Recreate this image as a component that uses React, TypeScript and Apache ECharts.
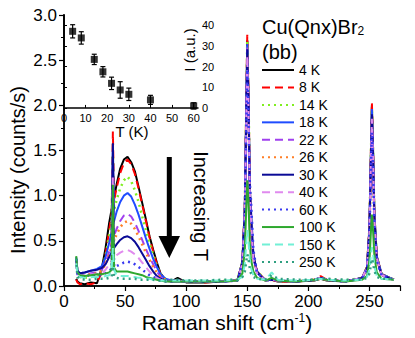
import React, { useEffect, useRef } from 'react';
import * as echarts from 'echarts';

// Raman shift grid (cm^-1)
const shift = [10, 11, 13, 17, 22, 27, 31, 34, 37, 39, 40, 41, 43, 46, 49, 52, 55, 58, 61, 64, 67, 70, 73, 76, 79, 83, 88, 93, 100, 115, 130, 142, 146, 148, 149, 150, 151, 152, 153, 155, 158, 165, 170, 175, 190, 205, 210, 215, 230, 244, 248, 250, 251, 252, 253, 254, 256, 260, 270];

const s4K = [0.08, 0.05, 0.03, 0.02, 0.04, 0.03, 0.2, 0.42, 0.7, 0.85, 1.05, 0.98, 1.12, 1.3, 1.4, 1.43, 1.37, 1.27, 1.1, 0.92, 0.74, 0.55, 0.4, 0.26, 0.14, 0.07, 0.05, 0.09, 0.04, 0.04, 0.05, 0.06, 0.27, 0.87, 1.82, 2.72, 2.09, 1.14, 0.65, 0.32, 0.16, 0.06, 0.07, 0.05, 0.05, 0.06, 0.08, 0.06, 0.05, 0.09, 0.21, 0.65, 1.35, 2.0, 1.48, 0.8, 0.33, 0.13, 0.07];
const s8K = [0.07, 0.04, 0.02, 0.03, 0.02, 0.04, 0.15, 0.35, 0.62, 0.8, 1.71, 0.95, 1.08, 1.25, 1.36, 1.4, 1.35, 1.24, 1.08, 0.9, 0.72, 0.54, 0.38, 0.24, 0.13, 0.07, 0.05, 0.06, 0.05, 0.04, 0.05, 0.06, 0.27, 0.88, 1.86, 2.78, 2.13, 1.16, 0.66, 0.32, 0.16, 0.06, 0.07, 0.05, 0.05, 0.07, 0.11, 0.07, 0.05, 0.09, 0.21, 0.66, 1.37, 2.03, 1.5, 0.81, 0.33, 0.13, 0.07];
const s14K = [0.3, 0.14, 0.1, 0.09, 0.1, 0.12, 0.18, 0.33, 0.55, 0.7, 1.45, 0.84, 0.95, 1.08, 1.17, 1.21, 1.16, 1.06, 0.93, 0.77, 0.62, 0.47, 0.34, 0.22, 0.13, 0.08, 0.06, 0.06, 0.05, 0.05, 0.06, 0.07, 0.27, 0.86, 1.8, 2.7, 2.08, 1.13, 0.64, 0.32, 0.16, 0.07, 0.08, 0.06, 0.05, 0.07, 0.09, 0.07, 0.06, 0.09, 0.2, 0.64, 1.32, 1.95, 1.44, 0.78, 0.32, 0.13, 0.07];
const s18K = [0.32, 0.17, 0.14, 0.15, 0.17, 0.19, 0.22, 0.32, 0.48, 0.6, 1.5, 0.72, 0.82, 0.93, 1.0, 1.03, 0.99, 0.9, 0.79, 0.66, 0.53, 0.41, 0.3, 0.21, 0.13, 0.08, 0.06, 0.06, 0.05, 0.05, 0.05, 0.06, 0.26, 0.85, 1.79, 2.68, 2.06, 1.12, 0.64, 0.31, 0.15, 0.06, 0.07, 0.06, 0.05, 0.07, 0.09, 0.07, 0.05, 0.09, 0.2, 0.64, 1.32, 1.96, 1.45, 0.79, 0.32, 0.13, 0.07];
const s22K = [0.3, 0.15, 0.12, 0.13, 0.14, 0.15, 0.18, 0.26, 0.38, 0.47, 1.35, 0.56, 0.63, 0.72, 0.78, 0.8, 0.77, 0.7, 0.61, 0.51, 0.41, 0.32, 0.24, 0.16, 0.1, 0.07, 0.05, 0.06, 0.05, 0.05, 0.05, 0.06, 0.26, 0.84, 1.77, 2.64, 2.03, 1.11, 0.63, 0.31, 0.15, 0.06, 0.07, 0.06, 0.05, 0.07, 0.09, 0.07, 0.05, 0.09, 0.2, 0.61, 1.27, 1.88, 1.39, 0.76, 0.31, 0.12, 0.07];
const s26K = [0.28, 0.14, 0.12, 0.12, 0.13, 0.14, 0.17, 0.24, 0.35, 0.43, 1.25, 0.5, 0.57, 0.65, 0.7, 0.72, 0.69, 0.63, 0.55, 0.46, 0.37, 0.29, 0.21, 0.15, 0.1, 0.07, 0.05, 0.06, 0.05, 0.05, 0.05, 0.06, 0.25, 0.82, 1.71, 2.55, 1.96, 1.07, 0.61, 0.3, 0.15, 0.06, 0.07, 0.06, 0.05, 0.07, 0.08, 0.07, 0.05, 0.09, 0.19, 0.59, 1.22, 1.8, 1.33, 0.73, 0.3, 0.12, 0.07];
const s30K = [0.3, 0.17, 0.14, 0.15, 0.17, 0.18, 0.2, 0.24, 0.32, 0.37, 1.58, 0.42, 0.46, 0.51, 0.54, 0.55, 0.53, 0.49, 0.43, 0.36, 0.29, 0.22, 0.16, 0.11, 0.08, 0.06, 0.05, 0.05, 0.05, 0.05, 0.05, 0.06, 0.26, 0.84, 1.75, 2.62, 2.02, 1.1, 0.85, 0.35, 0.15, 0.06, 0.07, 0.06, 0.05, 0.07, 0.09, 0.07, 0.05, 0.09, 0.2, 0.62, 1.29, 1.9, 1.41, 0.77, 0.31, 0.12, 0.07];
const s40K = [0.28, 0.14, 0.12, 0.12, 0.13, 0.13, 0.14, 0.18, 0.24, 0.28, 1.2, 0.31, 0.34, 0.37, 0.39, 0.4, 0.38, 0.35, 0.31, 0.26, 0.21, 0.16, 0.12, 0.09, 0.07, 0.05, 0.05, 0.06, 0.05, 0.05, 0.05, 0.06, 0.25, 0.82, 1.71, 2.55, 1.96, 1.07, 0.75, 0.3, 0.14, 0.06, 0.07, 0.06, 0.05, 0.07, 0.09, 0.07, 0.05, 0.09, 0.2, 0.6, 1.25, 1.85, 1.37, 0.75, 0.31, 0.12, 0.07];
const s60K = [0.28, 0.13, 0.11, 0.11, 0.12, 0.12, 0.12, 0.14, 0.17, 0.19, 1.0, 0.21, 0.22, 0.24, 0.26, 0.27, 0.26, 0.24, 0.21, 0.18, 0.15, 0.12, 0.1, 0.08, 0.06, 0.05, 0.05, 0.06, 0.05, 0.05, 0.05, 0.06, 0.24, 0.77, 1.6, 2.4, 1.85, 1.15, 0.95, 0.4, 0.15, 0.06, 0.08, 0.06, 0.05, 0.07, 0.09, 0.07, 0.05, 0.08, 0.18, 0.56, 1.15, 1.7, 1.26, 0.69, 0.28, 0.11, 0.07];
const s100K = [0.33, 0.15, 0.12, 0.11, 0.12, 0.13, 0.13, 0.14, 0.15, 0.18, 1.12, 0.2, 0.16, 0.16, 0.16, 0.16, 0.15, 0.14, 0.13, 0.12, 0.1, 0.09, 0.08, 0.07, 0.06, 0.05, 0.05, 0.05, 0.05, 0.05, 0.05, 0.06, 0.14, 0.4, 0.8, 1.17, 0.92, 0.5, 0.3, 0.16, 0.09, 0.06, 0.09, 0.06, 0.05, 0.07, 0.08, 0.07, 0.05, 0.07, 0.11, 0.28, 0.55, 0.79, 0.6, 0.34, 0.15, 0.08, 0.07];
const s150K = [0.25, 0.12, 0.1, 0.09, 0.1, 0.1, 0.1, 0.11, 0.12, 0.2, 0.42, 0.18, 0.12, 0.11, 0.11, 0.11, 0.1, 0.1, 0.09, 0.09, 0.08, 0.08, 0.07, 0.07, 0.06, 0.06, 0.06, 0.06, 0.06, 0.06, 0.06, 0.07, 0.1, 0.24, 0.45, 0.62, 0.5, 0.3, 0.2, 0.12, 0.08, 0.07, 0.15, 0.07, 0.06, 0.07, 0.08, 0.07, 0.06, 0.07, 0.1, 0.18, 0.32, 0.43, 0.35, 0.22, 0.11, 0.08, 0.07];
const s250K = [0.3, 0.1, 0.08, 0.07, 0.07, 0.08, 0.08, 0.08, 0.09, 0.1, 0.22, 0.1, 0.09, 0.08, 0.08, 0.08, 0.08, 0.08, 0.07, 0.07, 0.07, 0.07, 0.07, 0.06, 0.06, 0.06, 0.07, 0.07, 0.06, 0.06, 0.07, 0.07, 0.1, 0.16, 0.26, 0.35, 0.3, 0.2, 0.14, 0.1, 0.08, 0.07, 0.12, 0.08, 0.07, 0.07, 0.08, 0.08, 0.07, 0.07, 0.09, 0.14, 0.22, 0.3, 0.25, 0.17, 0.1, 0.08, 0.08];

const seriesNames = ['4 K', '8 K', '14 K', '18 K', '22 K', '26 K', '30 K', '40 K', '60 K', '100 K', '150 K', '250 K'];
const spectra = [s4K, s8K, s14K, s18K, s22K, s26K, s30K, s40K, s60K, s100K, s150K, s250K];

// Inset: integrated intensity vs temperature
const insetT = [4, 8, 14, 18, 22, 26, 30, 40, 60];
const insetI = [37.1, 33.9, 23.5, 17.5, 11.9, 8.7, 6.6, 3.9, 1.0];
const insetErr = [3.2, 3.0, 2.5, 2.5, 3.0, 4.0, 3.0, 2.2, 1.5];
const insetXTicks = [0, 10, 20, 30, 40, 50, 60];
const insetYTicks = [0, 10, 20, 30, 40];

// styles
const colors = ['#000000', '#ff0000', '#80ee20', '#1f4cff', '#a040ee', '#ff7f27', '#0a0a96', '#e08aee', '#3a3af0', '#2ea82e', '#72f0d6', '#2f9f80'];
const dashes: any[] = ['solid', [8, 5], [2, 4], 'solid', [8, 5], [2, 4], 'solid', [8, 5], [2, 4], 'solid', [8, 5], [2, 4]];

const FONT = '"Liberation Sans", Arial, sans-serif';

export default function App() {
  const ref = useRef<HTMLDivElement>(null);
  useEffect(() => {
    if (!ref.current) return;
    const chart = echarts.init(ref.current, null, { renderer: 'svg' });
    const axisLine = { show: true, lineStyle: { color: '#000', width: 1.5 } };

    const lineSeries = spectra.map((arr, k) => ({
      type: 'line',
      name: seriesNames[k],
      xAxisIndex: 0,
      yAxisIndex: 0,
      data: shift.map((x, i) => [x, arr[i]]),
      symbol: 'none',
      showSymbol: false,
      lineStyle: { color: colors[k], width: k % 3 === 2 ? 2.5 : 2, type: dashes[k] },
      itemStyle: { color: colors[k] },
    }));

    const errData = insetT.map((t, i) => [t, insetI[i] - insetErr[i], insetI[i] + insetErr[i]]);

    const option: any = {
      animation: false,
      textStyle: { fontFamily: FONT },
      grid: [
        { left: 64, top: 15, width: 336, height: 271 },
        { left: 64, top: 15, width: 134, height: 95 },
      ],
      xAxis: [
        {
          gridIndex: 0, type: 'value', min: 0, max: 275, interval: 50,
          axisLine, splitLine: { show: false },
          axisTick: { show: true, inside: false, length: 5, lineStyle: { color: '#000', width: 1.2 } },
          minorTick: { show: true, splitNumber: 2, length: 3, lineStyle: { color: '#000', width: 1 } },
          axisLabel: { fontSize: 17, color: '#000', margin: 7, showMaxLabel: false, fontFamily: FONT },
        },
        {
          gridIndex: 0, type: 'value', min: 0, max: 275, position: 'top',
          axisLine, splitLine: { show: false }, axisTick: { show: false }, axisLabel: { show: false },
        },
        {
          gridIndex: 1, type: 'value', min: 0, max: 62, position: 'bottom',
          axisLine, splitLine: { show: false },
          axisTick: { show: true, inside: true, length: 3, customValues: insetXTicks, lineStyle: { color: '#000' } },
          axisLabel: { fontSize: 11, color: '#000', margin: 2, customValues: insetXTicks, fontFamily: FONT },
        },
      ],
      yAxis: [
        {
          gridIndex: 0, type: 'value', min: 0, max: 3, interval: 0.5,
          axisLine, splitLine: { show: false },
          axisTick: { show: true, inside: false, length: 5, lineStyle: { color: '#000', width: 1.2 } },
          minorTick: { show: true, splitNumber: 2, length: 3, lineStyle: { color: '#000', width: 1 } },
          axisLabel: { fontSize: 17, color: '#000', margin: 7, formatter: (v: number) => v.toFixed(1), fontFamily: FONT },
        },
        {
          gridIndex: 0, type: 'value', min: 0, max: 3, interval: 0.5, position: 'right',
          axisLine, splitLine: { show: false },
          axisTick: { show: true, inside: true, length: 4, lineStyle: { color: '#000' } },
          axisLabel: { show: false },
        },
        {
          gridIndex: 1, type: 'value', min: -1, max: 45, position: 'right',
          axisLine, splitLine: { show: false },
          axisTick: { show: true, inside: false, length: 3, customValues: insetYTicks, lineStyle: { color: '#000' } },
          axisLabel: { fontSize: 11, color: '#000', margin: 4, customValues: insetYTicks, fontFamily: FONT },
        },
      ],
      legend: {
        orient: 'vertical', left: 261, top: 63, padding: 0,
        itemWidth: 32, itemHeight: 14, itemGap: 3.45,
        itemStyle: { opacity: 0, borderWidth: 0 },
        textStyle: { fontSize: 14, color: '#000', lineHeight: 14, fontFamily: FONT },
        data: seriesNames,
      },
      series: [
        ...lineSeries,
        {
          type: 'custom', xAxisIndex: 2, yAxisIndex: 2, data: errData, silent: true,
          renderItem: (params: any, api: any) => {
            const t = api.value(0);
            const lo = api.coord([t, api.value(1)]);
            const hi = api.coord([t, api.value(2)]);
            const st = { stroke: '#000', lineWidth: 1.2 };
            return {
              type: 'group',
              children: [
                { type: 'line', shape: { x1: lo[0], y1: lo[1], x2: hi[0], y2: hi[1] }, style: st },
                { type: 'line', shape: { x1: lo[0] - 2.5, y1: lo[1], x2: lo[0] + 2.5, y2: lo[1] }, style: st },
                { type: 'line', shape: { x1: hi[0] - 2.5, y1: hi[1], x2: hi[0] + 2.5, y2: hi[1] }, style: st },
              ],
            };
          },
        },
        {
          type: 'scatter', name: 'inset', xAxisIndex: 2, yAxisIndex: 2,
          data: insetT.map((t, i) => [t, insetI[i]]),
          symbol: 'rect', symbolSize: 7, itemStyle: { color: '#000' }, z: 5,
        },
      ],
      graphic: [
        {
          type: 'text', x: 18, y: 170, rotation: Math.PI / 2,
          style: { text: 'Intensity (counts/s)', fontSize: 20, fontFamily: FONT, fill: '#000', align: 'center', verticalAlign: 'middle' },
        },
        {
          type: 'text', x: 227, y: 322,
          style: {
            text: 'Raman shift (cm{sup|-1})', fontSize: 21, fontFamily: FONT, fill: '#000', align: 'center', verticalAlign: 'middle',
            rich: { sup: { fontSize: 12, fontFamily: FONT, fill: '#000', verticalAlign: 'top' } },
          },
        },
        {
          type: 'text', x: 262, y: 27,
          style: {
            text: 'Cu(Qnx)Br{sub|2}', fontSize: 20, fontFamily: FONT, fill: '#000', align: 'left', verticalAlign: 'middle',
            rich: { sub: { fontSize: 12, fontFamily: FONT, fill: '#000', verticalAlign: 'bottom', padding: [8, 0, 0, 0] } },
          },
        },
        {
          type: 'text', x: 262, y: 52,
          style: { text: '(bb)', fontSize: 20, fontFamily: FONT, fill: '#000', align: 'left', verticalAlign: 'middle' },
        },
        {
          type: 'text', x: 201, y: 206, rotation: -Math.PI / 2,
          style: { text: 'Increasing T', fontSize: 20, fontFamily: FONT, fill: '#000', align: 'center', verticalAlign: 'middle' },
        },
        { type: 'rect', shape: { x: 166.8, y: 157, width: 5, height: 82 }, style: { fill: '#000' } },
        { type: 'polygon', shape: { points: [[158.5, 236], [180, 236], [169.3, 258]] }, style: { fill: '#000' } },
        {
          type: 'text', x: 132, y: 131,
          style: { text: 'T (K)', fontSize: 15, fontFamily: FONT, fill: '#000', align: 'center', verticalAlign: 'middle' },
        },
        {
          type: 'text', x: 189, y: 50, rotation: Math.PI / 2,
          style: { text: 'I (a.u.)', fontSize: 15, fontFamily: FONT, fill: '#000', align: 'center', verticalAlign: 'middle' },
        },
      ],
    };
    chart.setOption(option);
    return () => chart.dispose();
  }, []);
  return <div ref={ref} style={{ position: 'fixed', left: 0, top: 0, width: 415, height: 338, background: '#fff' }} />;
}
